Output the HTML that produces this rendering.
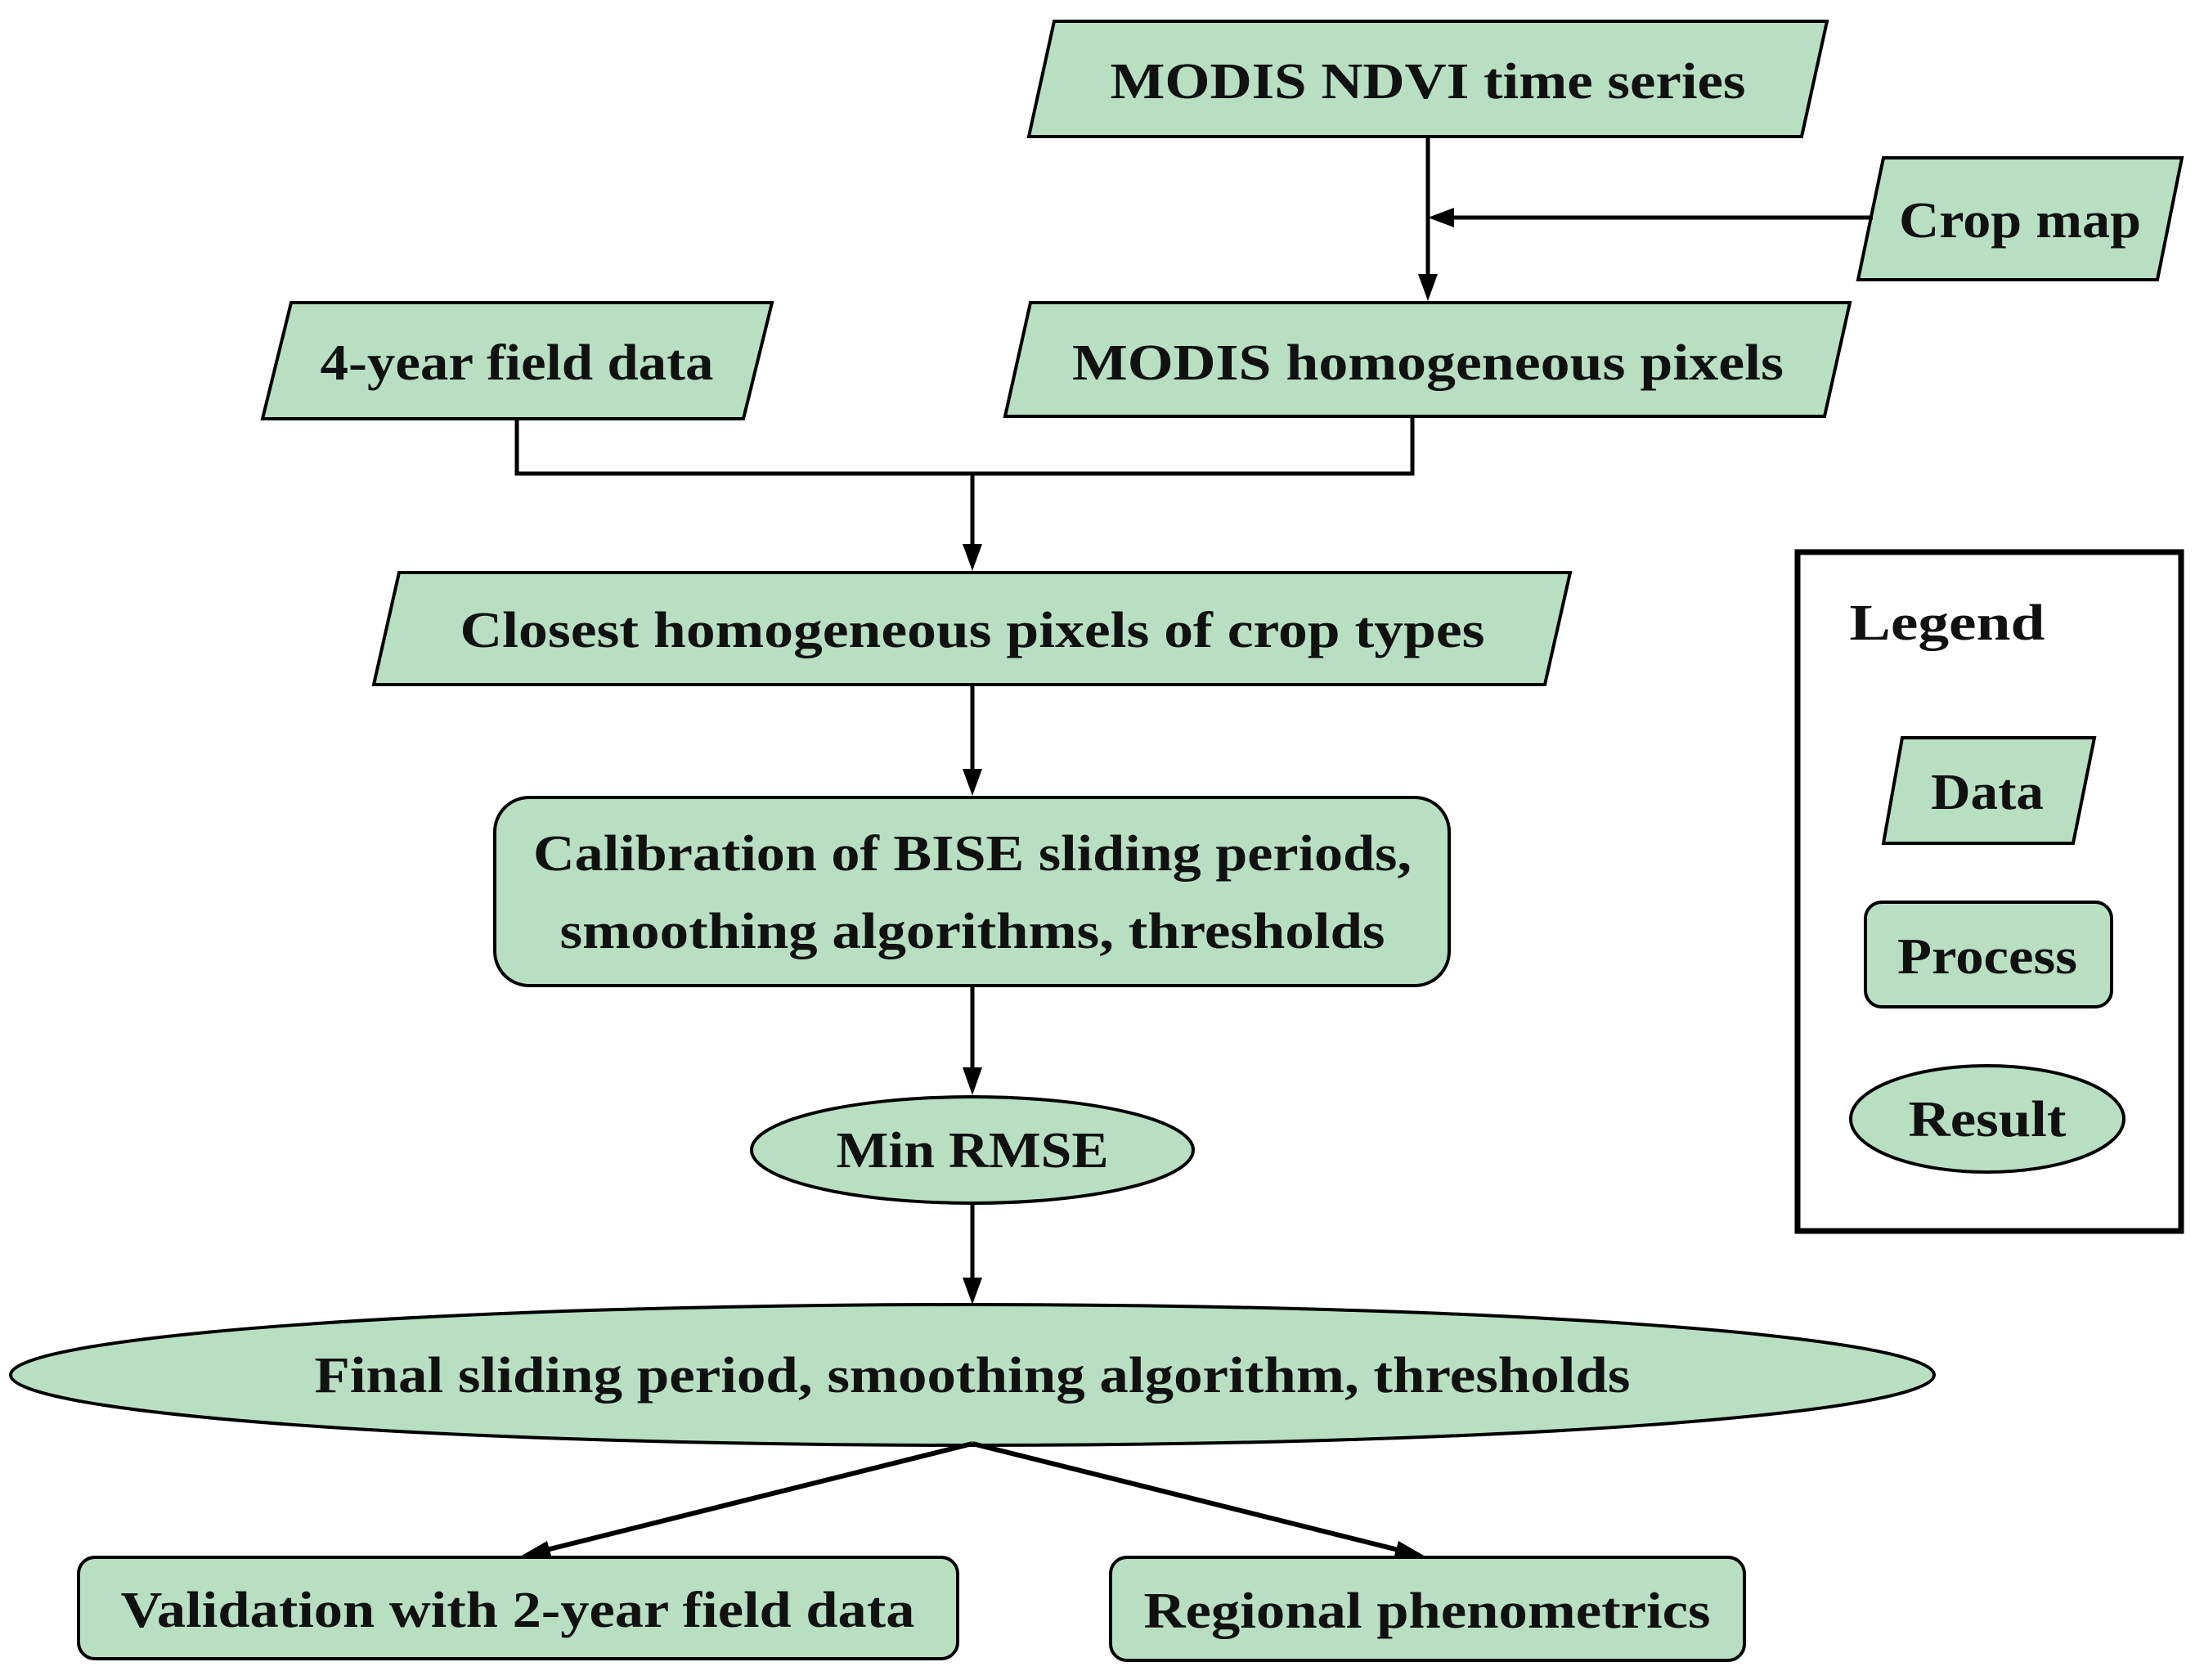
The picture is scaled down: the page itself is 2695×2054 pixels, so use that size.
<!DOCTYPE html>
<html><head><meta charset="utf-8"><style>html,body{margin:0;padding:0;background:#fff}svg{display:block}</style></head>
<body>
<svg width="2695" height="2054" viewBox="0 0 2695 2054" xmlns="http://www.w3.org/2000/svg">
<defs>
<marker id="ah" markerWidth="10" markerHeight="10" refX="9" refY="5" orient="auto" markerUnits="userSpaceOnUse" viewBox="0 0 10 10">
</marker>
</defs>
<g fill="#b9dfc3" stroke="#000" stroke-width="4">
<polygon points="1289,26 2234,26 2203,167 1258,167"/>
<polygon points="2303,193 2668,193 2638,342 2272,342"/>
<polygon points="1260,370 2262,370 2231,509 1229,509"/>
<polygon points="356,370 944,370 909,512 321,512"/>
<polygon points="488,700 1920,700 1889,837 457,837"/>
<rect x="605" y="975" width="1167" height="230" rx="42"/>
<ellipse cx="1189" cy="1406" rx="270" ry="65"/>
<ellipse cx="1189" cy="1681" rx="1176" ry="86"/>
<rect x="96" y="1904" width="1075" height="124" rx="20"/>
<rect x="1358" y="1904" width="775" height="126" rx="20"/>
<polygon points="2326,902 2561,902 2535,1031 2303,1031"/>
<rect x="2281" y="1103" width="301" height="128" rx="20"/>
<ellipse cx="2430" cy="1368" rx="167" ry="65"/>
</g>
<rect x="2198" y="675" width="469" height="830" fill="none" stroke="#000" stroke-width="7"/>
<g stroke="#000" stroke-width="5" fill="none">
<line x1="1746" y1="167" x2="1746" y2="335"/>
<line x1="2290" y1="266" x2="1775" y2="266"/>
<polyline points="632,512 632,579 1727,579 1727,509"/>
<line x1="1189" y1="579" x2="1189" y2="665"/>
<line x1="1189" y1="837" x2="1189" y2="940"/>
<line x1="1189" y1="1205" x2="1189" y2="1305"/>
<line x1="1189" y1="1471" x2="1189" y2="1562"/>
<line x1="1189" y1="1765" x2="660" y2="1897" stroke-width="6"/>
<line x1="1189" y1="1765" x2="1718" y2="1897" stroke-width="6"/>
</g>
<g fill="#000">
<polygon points="1734,335 1758,335 1746,368"/>
<polygon points="1746,266 1778,254 1778,278"/>
<polygon points="1177,665 1201,665 1189,698"/>
<polygon points="1177,940 1201,940 1189,973"/>
<polygon points="1177,1305 1201,1305 1189,1339"/>
<polygon points="1177,1562 1201,1562 1189,1595"/>
<polygon points="636,1903 669,1884 675,1906"/>
<polygon points="1743,1903 1704,1906 1710,1884"/>
</g>
<g font-family="'Liberation Serif',serif" font-weight="bold" font-size="62" text-anchor="middle" fill="#111">
<text x="1746" y="120" textLength="777" lengthAdjust="spacingAndGlyphs">MODIS NDVI time series</text>
<text x="2470" y="290" textLength="296" lengthAdjust="spacingAndGlyphs">Crop map</text>
<text x="1746" y="464" textLength="870" lengthAdjust="spacingAndGlyphs">MODIS homogeneous pixels</text>
<text x="632" y="464" textLength="481" lengthAdjust="spacingAndGlyphs">4-year field data</text>
<text x="1189" y="791" textLength="1253" lengthAdjust="spacingAndGlyphs">Closest homogeneous pixels of crop types</text>
<text x="1189" y="1064" textLength="1074" lengthAdjust="spacingAndGlyphs">Calibration of BISE sliding periods,</text>
<text x="1189" y="1159" textLength="1009" lengthAdjust="spacingAndGlyphs">smoothing algorithms, thresholds</text>
<text x="1189" y="1427" textLength="333" lengthAdjust="spacingAndGlyphs">Min RMSE</text>
<text x="1189" y="1702" textLength="1609" lengthAdjust="spacingAndGlyphs">Final sliding period, smoothing algorithm, thresholds</text>
<text x="633" y="1989" textLength="971" lengthAdjust="spacingAndGlyphs">Validation with 2-year field data</text>
<text x="1745" y="1990" textLength="693" lengthAdjust="spacingAndGlyphs">Regional phenometrics</text>
<text x="2381" y="782" textLength="239" lengthAdjust="spacingAndGlyphs">Legend</text>
<text x="2430" y="989" textLength="138" lengthAdjust="spacingAndGlyphs">Data</text>
<text x="2430" y="1190" textLength="220" lengthAdjust="spacingAndGlyphs">Process</text>
<text x="2430" y="1389" textLength="193" lengthAdjust="spacingAndGlyphs">Result</text>
</g>
</svg>
</body></html>
